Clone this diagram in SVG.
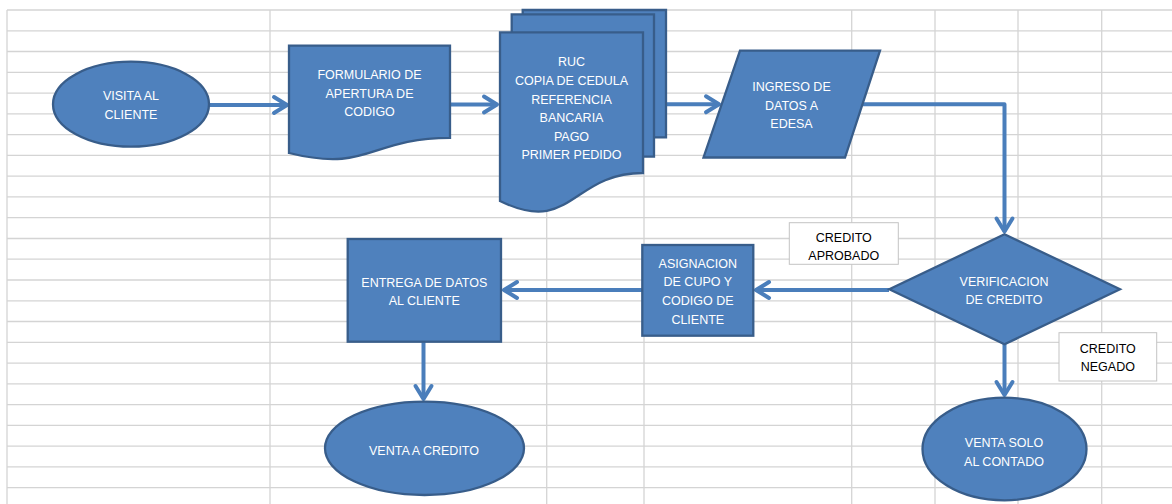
<svg xmlns="http://www.w3.org/2000/svg" width="1172" height="504" viewBox="0 0 1172 504">
  <style>
    .grid line { stroke: #D4D4D4; stroke-width: 1.3; }
    .shape { fill: #4F81BD; stroke: #385D8A; stroke-width: 2.3; stroke-linejoin: miter; }
    .txt { font-family: "Liberation Sans", Arial, sans-serif; font-size: 12.5px; fill: #FFFFFF; text-anchor: middle; }
    .lbl { fill: #FFFFFF; stroke: #C4C4C4; stroke-width: 1; }
    .lbltxt { font-family: "Liberation Sans", Arial, sans-serif; font-size: 12.5px; fill: #000000; text-anchor: middle; }
    .conn { fill: none; stroke: #4A7EBB; stroke-width: 4; stroke-linejoin: round; }
  </style>
  <defs>
    <marker id="chev" markerUnits="userSpaceOnUse" orient="auto" refX="0" refY="0" markerWidth="30" markerHeight="30" overflow="visible">
      <path d="M-13,-8 L0,0 L-13,8" fill="none" stroke="#4A7EBB" stroke-width="4" stroke-linecap="round" stroke-linejoin="round"/>
    </marker>
  </defs>

  <rect x="0" y="0" width="1172" height="504" fill="#FFFFFF"/>

  <!-- worksheet grid -->
  <g class="grid">
    <line x1="7" y1="10" x2="1172" y2="10"/>
    <line x1="7" y1="30.8" x2="1172" y2="30.8"/>
    <line x1="7" y1="51.5" x2="1172" y2="51.5"/>
    <line x1="7" y1="72.3" x2="1172" y2="72.3"/>
    <line x1="7" y1="93.1" x2="1172" y2="93.1"/>
    <line x1="7" y1="113.9" x2="1172" y2="113.9"/>
    <line x1="7" y1="134.6" x2="1172" y2="134.6"/>
    <line x1="7" y1="155.4" x2="1172" y2="155.4"/>
    <line x1="7" y1="176.2" x2="1172" y2="176.2"/>
    <line x1="7" y1="196.9" x2="1172" y2="196.9"/>
    <line x1="7" y1="217.7" x2="1172" y2="217.7"/>
    <line x1="7" y1="238.5" x2="1172" y2="238.5"/>
    <line x1="7" y1="259.2" x2="1172" y2="259.2"/>
    <line x1="7" y1="280" x2="1172" y2="280"/>
    <line x1="7" y1="300.8" x2="1172" y2="300.8"/>
    <line x1="7" y1="321.5" x2="1172" y2="321.5"/>
    <line x1="7" y1="342.3" x2="1172" y2="342.3"/>
    <line x1="7" y1="363.1" x2="1172" y2="363.1"/>
    <line x1="7" y1="383.9" x2="1172" y2="383.9"/>
    <line x1="7" y1="404.6" x2="1172" y2="404.6"/>
    <line x1="7" y1="425.4" x2="1172" y2="425.4"/>
    <line x1="7" y1="446.2" x2="1172" y2="446.2"/>
    <line x1="7" y1="466.9" x2="1172" y2="466.9"/>
    <line x1="7" y1="487.7" x2="1172" y2="487.7"/>
    <line x1="7" y1="10" x2="7" y2="504"/>
    <line x1="270" y1="10" x2="270" y2="504"/>
    <line x1="546.7" y1="10" x2="546.7" y2="504"/>
    <line x1="644" y1="10" x2="644" y2="504"/>
    <line x1="851.7" y1="10" x2="851.7" y2="504"/>
    <line x1="935" y1="10" x2="935" y2="504"/>
    <line x1="1018" y1="10" x2="1018" y2="504"/>
    <line x1="1101.7" y1="10" x2="1101.7" y2="504"/>
  </g>

  <!-- connectors -->
  <g id="connectors">
    <path class="conn" d="M209,105 H287" marker-end="url(#chev)"/>
    <path class="conn" d="M450,104.5 H497" marker-end="url(#chev)"/>
    <path class="conn" d="M666,104.3 H719" marker-end="url(#chev)"/>
    <path class="conn" d="M863,104.3 H1004.5 V231.5" marker-end="url(#chev)"/>
    <path class="conn" d="M889,290 H756" marker-end="url(#chev)"/>
    <path class="conn" d="M642,290 H504" marker-end="url(#chev)"/>
    <path class="conn" d="M423.5,342 V399" marker-end="url(#chev)"/>
    <path class="conn" d="M1004.5,344 V395" marker-end="url(#chev)"/>
  </g>

  <!-- start: client visit -->
  <g id="visita">
    <ellipse class="shape" cx="131" cy="104.2" rx="78" ry="42.5"/>
    <text class="txt" x="131" y="100.2">VISITA AL</text>
    <text class="txt" x="131" y="118.8">CLIENTE</text>
  </g>

  <!-- code opening form (document) -->
  <g id="formulario">
    <path class="shape" d="M289,45.7 H450 V137.8 C369.5,137.8 369.5,173 289,153 Z"/>
    <text class="txt" x="369.5" y="79">FORMULARIO DE</text>
    <text class="txt" x="369.5" y="97.5">APERTURA DE</text>
    <text class="txt" x="369.5" y="116">CODIGO</text>
  </g>

  <!-- required documents (stacked pages, back to front) -->
  <g id="documentos">
    <path class="shape" d="M522.7,14.3 V10 H666 V137.3 H654"/>
    <path class="shape" d="M511.7,32.3 V14.3 H654 V156.7 H643"/>
    <path class="shape" d="M500,32.3 H643 V173 C571.5,173 571.5,236 500,201 Z"/>
    <text class="txt" x="571.5" y="66.3">RUC</text>
    <text class="txt" x="571.5" y="84.9">COPIA DE CEDULA</text>
    <text class="txt" x="571.5" y="103.5">REFERENCIA</text>
    <text class="txt" x="571.5" y="122.1">BANCARIA</text>
    <text class="txt" x="571.5" y="140.7">PAGO</text>
    <text class="txt" x="571.5" y="159.3">PRIMER PEDIDO</text>
  </g>

  <!-- data entry (parallelogram) -->
  <g id="ingreso">
    <path class="shape" d="M740,50.7 H880 L845,157.5 H703.5 Z"/>
    <text class="txt" x="791.5" y="91.2">INGRESO DE</text>
    <text class="txt" x="791.5" y="109.5">DATOS A</text>
    <text class="txt" x="791.5" y="127.8">EDESA</text>
  </g>

  <!-- credit check (decision) -->
  <g id="verificacion">
    <path class="shape" d="M1004.5,234.3 L1120,289.3 L1004.5,344.3 L889.3,289.3 Z"/>
    <text class="txt" x="1004" y="285.7">VERIFICACION</text>
    <text class="txt" x="1004" y="304.3">DE CREDITO</text>
  </g>

  <g id="credito-aprobado">
    <rect class="lbl" x="789.3" y="222.7" width="109" height="41.6"/>
    <text class="lbltxt" x="843.8" y="241.8">CREDITO</text>
    <text class="lbltxt" x="843.8" y="260.2">APROBADO</text>
  </g>

  <g id="credito-negado">
    <rect class="lbl" x="1059" y="332.7" width="97.7" height="48.3"/>
    <text class="lbltxt" x="1107.8" y="352.8">CREDITO</text>
    <text class="lbltxt" x="1107.8" y="371.2">NEGADO</text>
  </g>

  <!-- quota and client code -->
  <g id="asignacion">
    <rect class="shape" x="642.3" y="245" width="111" height="90.7"/>
    <text class="txt" x="697.8" y="267.8">ASIGNACION</text>
    <text class="txt" x="697.8" y="286.4">DE CUPO Y</text>
    <text class="txt" x="697.8" y="305">CODIGO DE</text>
    <text class="txt" x="697.8" y="323.6">CLIENTE</text>
  </g>

  <!-- hand data to client -->
  <g id="entrega">
    <rect class="shape" x="347.7" y="239" width="153.3" height="102.7"/>
    <text class="txt" x="424.3" y="286.8">ENTREGA DE DATOS</text>
    <text class="txt" x="424.3" y="305.4">AL CLIENTE</text>
  </g>

  <!-- outcomes -->
  <g id="venta-credito">
    <ellipse class="shape" cx="424.5" cy="448.3" rx="99.5" ry="46.7"/>
    <text class="txt" x="424" y="454.5">VENTA A CREDITO</text>
  </g>

  <g id="venta-contado">
    <ellipse class="shape" cx="1004.5" cy="449" rx="82" ry="51.3"/>
    <text class="txt" x="1004" y="447.2">VENTA SOLO</text>
    <text class="txt" x="1004" y="465.8">AL CONTADO</text>
  </g>
</svg>
